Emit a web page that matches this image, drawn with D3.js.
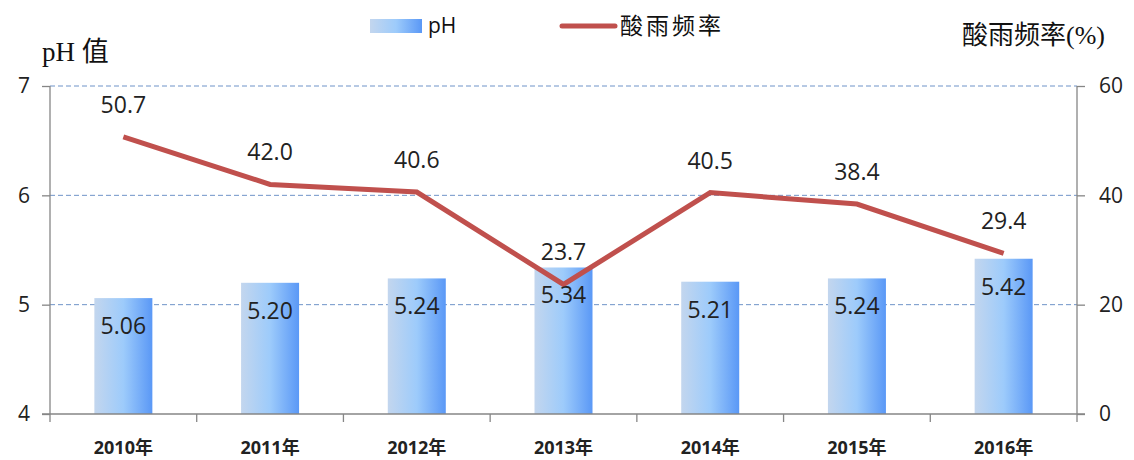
<!DOCTYPE html>
<html>
<head>
<meta charset="utf-8">
<script src="https://cdn.jsdelivr.net/npm/d3@7"></script>
<style>
  body { margin: 0; background: #fff; }
  svg { display: block; }
</style>
</head>
<body>
<svg id="chart" width="1134" height="460"></svg>
<script>
// chart data
const years = ["2010年", "2011年", "2012年", "2013年", "2014年", "2015年", "2016年"];
const phValues = [5.06, 5.20, 5.24, 5.34, 5.21, 5.24, 5.42];
const rainRate = [50.7, 42.0, 40.6, 23.7, 40.5, 38.4, 29.4];
const phTicks = [4, 5, 6, 7];
const rateTicks = [0, 20, 40, 60];

const width = 1134, height = 460;
const margin = { top: 86, right: 57, bottom: 46, left: 50 };
const innerW = width - margin.left - margin.right;
const innerH = height - margin.top - margin.bottom;

const svg = d3.select("#chart");
const sansFont = "'Open Sans', 'Noto Sans CJK SC', sans-serif";
const serifFont = "'Liberation Serif', 'Noto Sans CJK SC', serif";

// bar gradient
const defs = svg.append("defs");
const grad = defs.append("linearGradient").attr("id", "barGrad")
    .attr("x1", "0%").attr("x2", "100%").attr("y1", "0%").attr("y2", "0%");
grad.append("stop").attr("offset", "0%").attr("stop-color", "#c3d6ee");
grad.append("stop").attr("offset", "50%").attr("stop-color", "#9dcbfb");
grad.append("stop").attr("offset", "100%").attr("stop-color", "#5a98f6");

const g = svg.append("g").attr("transform", `translate(${margin.left},${margin.top})`);

const x = d3.scaleBand().domain(years).range([0, innerW]).paddingInner(0).paddingOuter(0);
const yPh = d3.scaleLinear().domain([4, 7]).range([innerH, 0]);
const yRate = d3.scaleLinear().domain([0, 60]).range([innerH, 0]);

// grid lines
g.append("g").selectAll("line")
    .data(phTicks.filter(d => d > 4))
    .join("line")
    .attr("x1", 0).attr("x2", innerW)
    .attr("y1", d => yPh(d)).attr("y2", d => yPh(d))
    .attr("stroke", "#6f93c8")
    .attr("stroke-width", 1)
    .attr("stroke-dasharray", "5,3");

// bars
const barW = 58;
g.append("g").selectAll("rect")
    .data(phValues)
    .join("rect")
    .attr("x", (d, i) => x(years[i]) + x.bandwidth() / 2 - barW / 2)
    .attr("width", barW)
    .attr("y", d => yPh(d))
    .attr("height", d => innerH - yPh(d))
    .attr("fill", "url(#barGrad)");

// axes
const axisColor = "#868686";
const leftAxis = g.append("g")
    .call(d3.axisLeft(yPh).tickValues(phTicks).tickSize(8).tickFormat(d3.format("d")));
const rightAxis = g.append("g").attr("transform", `translate(${innerW},0)`)
    .call(d3.axisRight(yRate).tickValues(rateTicks).tickSize(8).tickFormat(d3.format("d")));
[leftAxis, rightAxis].forEach(ax => {
    ax.select(".domain").attr("stroke", axisColor).attr("stroke-width", 1.3)
        .attr("d", `M0,${innerH}V0`);
    ax.selectAll(".tick line").attr("stroke", axisColor).attr("stroke-width", 1.3);
    ax.selectAll(".tick text")
        .attr("fill", "#222")
        .style("font-family", sansFont)
        .style("font-size", "21px");
});
leftAxis.selectAll(".tick text").attr("x", -20);
rightAxis.selectAll(".tick text").attr("x", 22);

// bottom axis with ticks at band boundaries
const bottom = g.append("g").attr("transform", `translate(0,${innerH})`);
bottom.append("line").attr("x1", -8).attr("x2", innerW + 8)
    .attr("stroke", axisColor).attr("stroke-width", 1.3);
bottom.selectAll("line.bt")
    .data(years.concat(["end"]))
    .join("line").attr("class", "bt")
    .attr("x1", (d, i) => i * x.step()).attr("x2", (d, i) => i * x.step())
    .attr("y1", 0).attr("y2", 8)
    .attr("stroke", axisColor).attr("stroke-width", 1.3);
bottom.selectAll("text")
    .data(years)
    .join("text")
    .attr("x", d => x(d) + x.bandwidth() / 2)
    .attr("y", 40)
    .attr("text-anchor", "middle")
    .style("font-family", sansFont)
    .style("font-weight", "bold")
    .style("font-size", "18px")
    .attr("fill", "#222")
    .text(d => d);

// line
const line = d3.line()
    .x((d, i) => x(years[i]) + x.bandwidth() / 2)
    .y(d => yRate(d));
g.append("path")
    .datum(rainRate)
    .attr("d", line)
    .attr("fill", "none")
    .attr("stroke", "#c0504d")
    .attr("stroke-width", 5);

// labels
g.append("g").selectAll("text")
    .data(phValues)
    .join("text")
    .attr("x", (d, i) => x(years[i]) + x.bandwidth() / 2)
    .attr("y", d => yPh(d) + 36)
    .attr("text-anchor", "middle")
    .style("font-family", sansFont)
    .style("font-size", "23px")
    .attr("fill", "#222")
    .text(d => d.toFixed(2));

g.append("g").selectAll("text")
    .data(rainRate)
    .join("text")
    .attr("x", (d, i) => x(years[i]) + x.bandwidth() / 2)
    .attr("y", d => yRate(d) - 24)
    .attr("text-anchor", "middle")
    .style("font-family", sansFont)
    .style("font-size", "23px")
    .attr("fill", "#222")
    .text(d => d.toFixed(1));

// axis titles
svg.append("text").attr("x", 42).attr("y", 61)
    .style("font-family", serifFont).style("font-size", "27px").attr("fill", "#111")
    .text("pH 值");
svg.append("text").attr("x", 1105).attr("y", 44).attr("text-anchor", "end")
    .style("font-family", serifFont).style("font-size", "26px").attr("fill", "#111")
    .text("酸雨频率(%)");

// legend
const legend = svg.append("g");
legend.append("rect").attr("x", 370).attr("y", 19).attr("width", 52).attr("height", 14)
    .attr("fill", "url(#barGrad)");
legend.append("text").attr("x", 428).attr("y", 33)
    .style("font-family", sansFont).style("font-size", "21px").attr("fill", "#111")
    .text("pH");
legend.append("line").attr("x1", 562).attr("x2", 615).attr("y1", 26).attr("y2", 26)
    .attr("stroke", "#c0504d").attr("stroke-width", 5).attr("stroke-linecap", "round");
legend.append("text").attr("x", 620).attr("y", 34)
    .style("font-family", "'Noto Sans CJK SC', sans-serif").style("font-size", "23px")
    .style("letter-spacing", "3px").attr("fill", "#111")
    .text("酸雨频率");
</script>
</body>
</html>
